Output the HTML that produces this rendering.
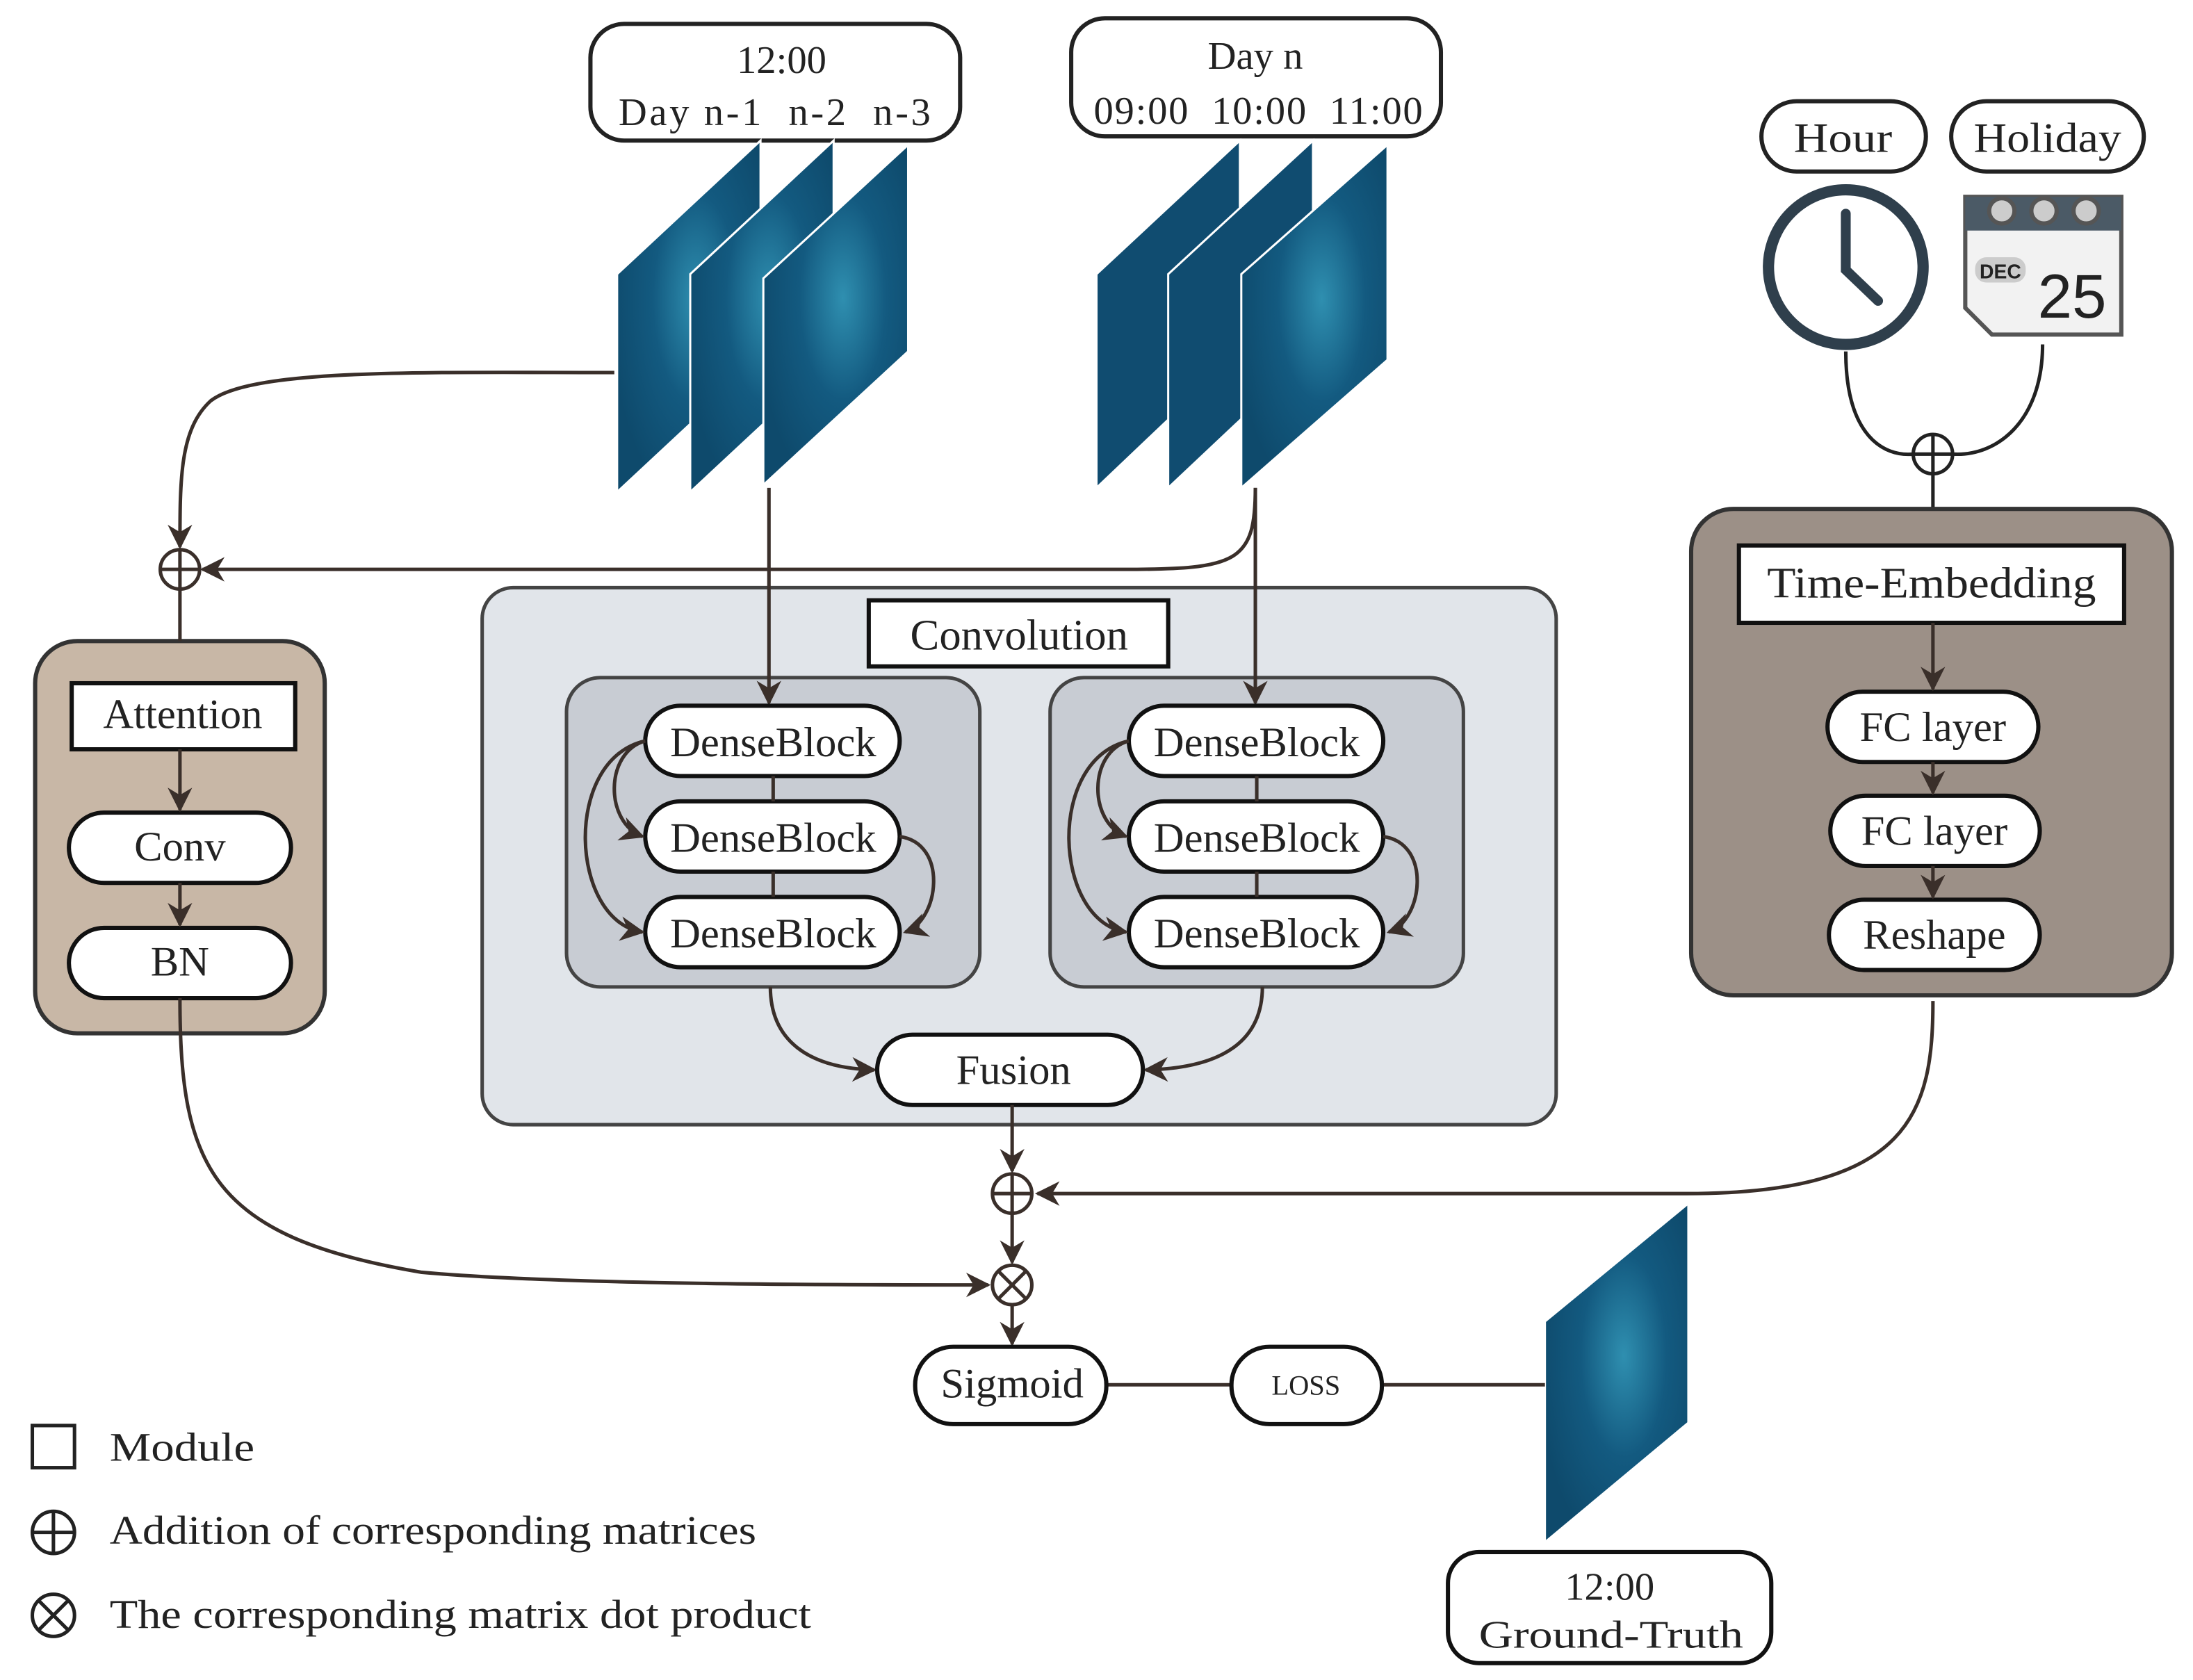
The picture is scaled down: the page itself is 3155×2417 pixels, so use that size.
<!DOCTYPE html>
<html><head><meta charset="utf-8"><style>
html,body{margin:0;padding:0;background:#fff;}
svg{display:block;}
text{font-family:"Liberation Serif",serif;fill:#222;}
</style></head><body>
<svg width="3155" height="2417" viewBox="0 0 1560 1195" preserveAspectRatio="none" xmlns="http://www.w3.org/2000/svg">
<defs>
<marker id="a" viewBox="0 0 10 10" refX="9" refY="5" markerWidth="7" markerHeight="7" orient="auto-start-reverse"><path d="M0,0 L10,5 L0,10 L3,5 z" fill="#3a2f2a"/></marker>
<radialGradient id="m" cx="0.55" cy="0.45" r="0.6"><stop offset="0" stop-color="#2f8fb0"/><stop offset="0.5" stop-color="#135a80"/><stop offset="1" stop-color="#0e4a6c"/></radialGradient>
</defs>
<g fill="none" stroke="#3a2f2a" stroke-width="2.5">
<rect x="420" y="17" width="263" height="83" rx="24" fill="#fff" stroke="#222" stroke-width="3"/>
<rect x="762" y="13" width="263" height="84" rx="24" fill="#fff" stroke="#222" stroke-width="3"/>
</g>
<text x="556" y="52" font-size="28" text-anchor="middle">12:00</text>
<text x="440" y="89" font-size="28" textLength="222" lengthAdjust="spacing" xml:space="preserve">Day n-1  n-2  n-3</text>
<text x="893" y="49" font-size="28" text-anchor="middle">Day n</text>
<text x="778" y="88" font-size="28" textLength="234" lengthAdjust="spacing" xml:space="preserve">09:00  10:00  11:00</text>
<g stroke="#fff" stroke-width="1.5">
<polygon points="439,195 541,100 541,255 439,350" fill="url(#m)"/>
<polygon points="491,195 593,100 593,255 491,350" fill="url(#m)"/>
<polygon points="543,198 646,103 646,250 543,345" fill="url(#m)"/>
<polygon points="780,195 882,100 882,250 780,347" fill="#104c70"/>
<polygon points="831,195 934,100 934,250 831,347" fill="#104c70"/>
<polygon points="883,195 987,103 987,256 883,347" fill="url(#m)"/>
<polygon points="1099,940 1201,856 1201,1012 1099,1097" fill="url(#m)"/>
</g>
<rect x="1253" y="72" width="117" height="50" rx="25" fill="#fff" stroke="#222" stroke-width="3"/>
<rect x="1388" y="72" width="137" height="50" rx="25" fill="#fff" stroke="#222" stroke-width="3"/>
<text x="1276" y="108" font-size="30" textLength="70" lengthAdjust="spacingAndGlyphs">Hour</text>
<text x="1404" y="108" font-size="30" textLength="105" lengthAdjust="spacingAndGlyphs">Holiday</text>
<circle cx="1313" cy="190" r="55" fill="#fff" stroke="#2f3f4c" stroke-width="8"/>
<path d="M1313,152 L1313,192 L1336,214" fill="none" stroke="#2f3f4c" stroke-width="7" stroke-linecap="round"/>
<path d="M1398,140 h111 v98 h-92 l-19,-19 z" fill="#f2f2f2" stroke="#555" stroke-width="3"/>
<rect x="1398" y="140" width="111" height="24" fill="#4b5a66"/>
<circle cx="1424" cy="150" r="9" fill="#ccc" stroke="#555" stroke-width="3"/>
<circle cx="1454" cy="150" r="9" fill="#ccc" stroke="#555" stroke-width="3"/>
<circle cx="1484" cy="150" r="9" fill="#ccc" stroke="#555" stroke-width="3"/>
<rect x="1405" y="183" width="36" height="18" rx="8" fill="#ccc"/>
<text x="1423" y="198" font-size="14" font-weight="bold" text-anchor="middle" style="font-family:'Liberation Sans',sans-serif">DEC</text>
<text x="1474" y="226" font-size="44" text-anchor="middle" style="font-family:'Liberation Sans',sans-serif" fill="#333">25</text>
<g fill="none" stroke="#222" stroke-width="2.5">
<path d="M1313,250 C1313,310 1340,325 1361,323"/>
<path d="M1453,245 C1453,300 1420,325 1389,323"/>
<circle cx="1375" cy="323" r="14" fill="#fff"/>
<path d="M1361,323 h28 M1375,309 v28"/>
<path d="M1375,337 v25"/>
</g>
<rect x="1203" y="362" width="342" height="346" rx="30" fill="#9c9087" stroke="#333" stroke-width="3"/>
<rect x="1237" y="388" width="274" height="55" fill="#fff" stroke="#111" stroke-width="3"/>
<text x="1257" y="425" font-size="31" textLength="234" lengthAdjust="spacingAndGlyphs">Time-Embedding</text>
<g stroke="#111" stroke-width="3" fill="#fff">
<rect x="1300" y="492" width="150" height="50" rx="25"/>
<rect x="1302" y="566" width="149" height="50" rx="25"/>
<rect x="1301" y="640" width="150" height="50" rx="25"/>
</g>
<text x="1375" y="527" font-size="30" text-anchor="middle">FC layer</text>
<text x="1376" y="601" font-size="30" text-anchor="middle">FC layer</text>
<text x="1376" y="675" font-size="30" text-anchor="middle">Reshape</text>
<g stroke="#3a2f2a" stroke-width="2.5" fill="none" marker-end="url(#a)">
<path d="M1375,443 V490"/><path d="M1375,542 V564"/><path d="M1375,616 V638"/>
</g>
<rect x="25" y="456" width="206" height="279" rx="30" fill="#c8b7a6" stroke="#333" stroke-width="3"/>
<rect x="51" y="486" width="159" height="47" fill="#fff" stroke="#111" stroke-width="3"/>
<text x="130" y="518" font-size="30" text-anchor="middle">Attention</text>
<g stroke="#111" stroke-width="3" fill="#fff">
<rect x="49" y="578" width="158" height="50" rx="25"/>
<rect x="49" y="660" width="158" height="50" rx="25"/>
</g>
<text x="128" y="612" font-size="30" text-anchor="middle">Conv</text>
<text x="128" y="694" font-size="30" text-anchor="middle">BN</text>
<rect x="343" y="418" width="764" height="382" rx="22" fill="#e1e5ea" stroke="#444" stroke-width="2.5"/>
<rect x="618" y="427" width="213" height="47" fill="#fff" stroke="#111" stroke-width="3"/>
<text x="725" y="462" font-size="31" text-anchor="middle">Convolution</text>
<rect x="403" y="482" width="294" height="220" rx="24" fill="#c8ccd3" stroke="#444" stroke-width="2.5"/>
<rect x="747" y="482" width="294" height="220" rx="24" fill="#c8ccd3" stroke="#444" stroke-width="2.5"/>
<g stroke="#3a2f2a" stroke-width="2.5" fill="none">
<path d="M128,533 V576" marker-end="url(#a)"/><path d="M128,628 V658" marker-end="url(#a)"/>
<path d="M437,265 C300,265 180,262 150,285 C128,305 128,340 128,389" marker-end="url(#a)"/>
<path d="M893,347 C893,400 880,405 800,405 L144,405" marker-end="url(#a)"/>
<circle cx="128" cy="405" r="14" fill="#fff"/>
<path d="M114,405 h28 M128,391 v28"/>
<path d="M128,419 V456"/>
<path d="M547,347 V500" marker-end="url(#a)"/>
<path d="M893,347 V500" marker-end="url(#a)"/>
</g>
<g stroke="#111" stroke-width="3" fill="#fff">
<rect x="459" y="502" width="181" height="50" rx="25"/>
<rect x="459" y="570" width="181" height="50" rx="25"/>
<rect x="459" y="638" width="181" height="50" rx="25"/>
<rect x="803" y="502" width="181" height="50" rx="25"/>
<rect x="803" y="570" width="181" height="50" rx="25"/>
<rect x="803" y="638" width="181" height="50" rx="25"/>
</g>
<g font-size="30" text-anchor="middle">
<text x="550" y="538">DenseBlock</text><text x="550" y="606">DenseBlock</text><text x="550" y="674">DenseBlock</text>
<text x="894" y="538">DenseBlock</text><text x="894" y="606">DenseBlock</text><text x="894" y="674">DenseBlock</text>
</g>
<g stroke="#3a2f2a" stroke-width="2.5" fill="none">
<path d="M550,552 V570"/><path d="M550,620 V638"/><path d="M894,552 V570"/><path d="M894,620 V638"/>
<path d="M459,527 C430,535 430,585 457,595" marker-end="url(#a)"/>
<path d="M459,527 C400,540 405,655 457,663" marker-end="url(#a)"/>
<path d="M640,595 C675,600 668,655 644,663" marker-end="url(#a)"/>
<path d="M803,527 C774,535 774,585 801,595" marker-end="url(#a)"/>
<path d="M803,527 C744,540 749,655 801,663" marker-end="url(#a)"/>
<path d="M984,595 C1019,600 1012,655 988,663" marker-end="url(#a)"/>
<path d="M548,702 C548,740 575,760 622,761" marker-end="url(#a)"/>
<path d="M898,702 C898,740 870,760 815,761" marker-end="url(#a)"/>
</g>
<rect x="624" y="736" width="189" height="50" rx="25" fill="#fff" stroke="#111" stroke-width="3"/>
<text x="721" y="771" font-size="30" text-anchor="middle">Fusion</text>
<g stroke="#3a2f2a" stroke-width="2.5" fill="none">
<path d="M720,786 V833" marker-end="url(#a)"/>
<path d="M1375,712 C1375,790 1360,849 1200,849 L738,849" marker-end="url(#a)"/>
<circle cx="720" cy="849" r="14" fill="#fff"/>
<path d="M706,849 h28 M720,835 v28"/>
<path d="M720,863 V898" marker-end="url(#a)"/>
<path d="M128,710 C128,830 150,880 300,905 C400,914 600,914 703,914" marker-end="url(#a)"/>
<circle cx="720" cy="914" r="14" fill="#fff"/>
<path d="M710,904 l20,20 M730,904 l-20,20"/>
<path d="M720,928 V956" marker-end="url(#a)"/>
<path d="M787,985 H876 M983,985 H1099"/>
</g>
<rect x="651" y="958" width="136" height="55" rx="27" fill="#fff" stroke="#111" stroke-width="3"/>
<text x="720" y="994" font-size="30" text-anchor="middle">Sigmoid</text>
<rect x="876" y="958" width="107" height="55" rx="27" fill="#fff" stroke="#111" stroke-width="3"/>
<text x="929" y="992" font-size="20" text-anchor="middle">LOSS</text>
<rect x="1030" y="1104" width="230" height="79" rx="22" fill="#fff" stroke="#111" stroke-width="3"/>
<text x="1145" y="1138" font-size="28" text-anchor="middle">12:00</text>
<text x="1052" y="1172" font-size="28" textLength="188" lengthAdjust="spacingAndGlyphs">Ground-Truth</text>
<g stroke="#222" stroke-width="2.5" fill="none">
<rect x="23" y="1014" width="30" height="30"/>
<circle cx="38" cy="1090" r="15"/><path d="M23,1090 h30 M38,1075 v30"/>
<circle cx="38" cy="1149" r="15"/><path d="M27,1138 l22,22 M49,1138 l-22,22"/>
</g>
<text x="78" y="1039" font-size="29" textLength="103" lengthAdjust="spacingAndGlyphs">Module</text>
<text x="78" y="1098" font-size="29" textLength="460" lengthAdjust="spacingAndGlyphs">Addition of corresponding matrices</text>
<text x="78" y="1158" font-size="29" textLength="499" lengthAdjust="spacingAndGlyphs">The corresponding matrix dot product</text>
</svg>
</body></html>
